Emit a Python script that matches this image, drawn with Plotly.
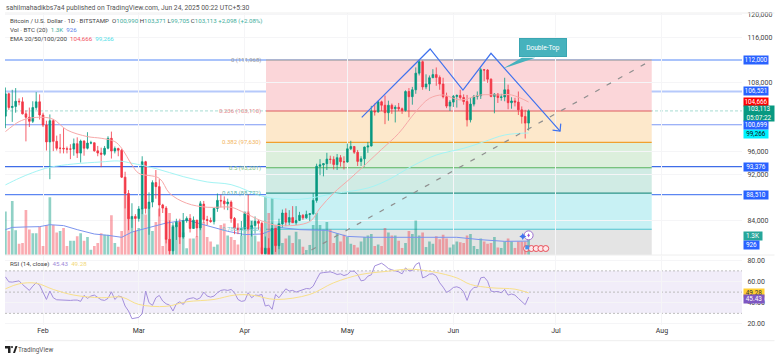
import pandas as pd
import plotly.graph_objects as go

FIRST_DAY = "2025-01-21"
opens = [102.2,106.1,103.7,103.9,104.8,104.7,102.6,102.0,101.3,103.7,104.7,
102.4,100.65,97.7,101.4,97.8,96.6,96.6,96.5,96.45,96.45,97.4,95.75,97.85,96.6,97.5,97.55,96.15,95.77,95.54,96.6,98.33,96.12,96.55,96.25,91.55,88.7,84.3,84.7,
84.35,86.0,94.25,86.1,87.2,90.6,89.9,86.7,86.15,80.7,78.7,82.9,83.7,81.1,83.95,84.35,82.6,84.05,82.7,86.85,84.15,84.0,83.8,86.1,87.5,87.4,86.9,87.2,84.35,82.65,82.4,
82.55,85.15,82.5,83.1,83.85,83.5,78.2,79.15,76.3,82.6,79.6,83.4,85.3,83.7,84.5,83.6,84.0,84.9,84.45,85.05,85.15,87.5,93.45,93.7,93.9,94.7,94.65,93.75,94.95,94.25,
94.2,96.5,96.9,95.9,94.3,94.75,96.8,97.0,103.1,102.95,104.7,104.1,102.8,104.1,103.5,103.75,103.5,103.2,106.5,105.6,106.8,109.7,111.7,107.3,107.8,108.9,109.45,108.95,107.8,105.6,103.95,
104.65,105.65,105.8,105.45,104.75,101.55,104.3,105.65,105.75,110.3,110.25,108.65,105.65,106.05,105.45,105.55,106.8,104.55,104.85,104.65,103.3,102.15,100.99]
highs = [107.2,106.3,106.8,107.1,105.3,105.5,103.2,103.7,104.8,106.4,106.0,
102.8,101.4,102.5,101.7,98.8,99.1,100.1,96.9,97.3,98.3,98.5,98.1,98.0,99.4,97.9,97.6,97.0,96.7,97.0,98.7,99.5,96.9,96.7,96.5,92.5,89.3,87.0,85.1,
86.5,95.2,94.4,88.9,91.0,92.8,91.2,86.9,86.5,84.0,83.6,84.3,84.3,85.3,84.7,85.1,84.7,84.1,87.4,87.4,84.8,84.5,86.2,88.7,88.5,88.2,87.8,87.5,84.6,83.5,83.9,
85.5,88.5,83.9,84.7,84.2,83.8,81.2,80.9,83.6,82.7,84.3,85.9,86.1,85.8,86.5,86.5,85.5,85.1,85.7,85.3,88.8,93.9,94.7,94.0,95.8,95.3,95.2,95.6,95.4,95.2,
97.4,97.9,97.0,96.3,95.2,96.9,97.7,104.0,104.4,104.9,104.9,105.8,104.9,104.4,104.1,104.5,103.7,106.7,107.1,107.3,110.7,112.0,111.9,109.5,109.3,110.4,110.7,109.3,108.9,106.3,105.0,
105.9,106.0,106.8,106.0,105.9,105.4,105.9,106.5,110.6,110.4,110.4,108.8,106.2,106.2,106.1,108.9,107.7,105.5,105.4,106.5,103.9,103.3,103.37]
lows = [100.1,103.3,101.2,102.8,104.1,102.5,97.8,100.3,101.0,103.3,101.6,
100.3,96.2,91.2,96.1,96.2,95.7,95.7,95.7,94.7,95.3,94.9,94.1,95.3,96.4,97.3,96.0,95.2,93.3,95.3,96.4,94.8,95.7,95.2,91.4,86.1,82.3,82.7,78.2,
83.8,85.1,85.2,81.5,86.3,87.8,84.7,85.3,80.0,77.4,76.6,80.6,79.9,80.8,83.6,81.9,82.5,81.1,82.3,83.6,83.2,83.6,83.3,85.5,86.3,85.9,85.8,83.6,81.6,81.6,81.3,
82.4,82.3,81.2,81.7,82.4,77.1,74.5,76.2,74.6,78.5,79.0,82.8,83.0,83.2,83.6,83.2,83.9,84.1,84.3,83.9,85.0,87.1,91.9,91.7,92.8,93.9,92.9,92.8,93.4,92.9,
94.1,96.3,95.6,93.5,93.5,93.4,95.8,96.9,102.3,102.8,103.1,100.8,101.4,102.6,101.1,103.1,102.6,103.0,102.0,104.2,106.1,109.3,106.8,106.9,106.6,108.9,107.5,106.8,105.3,103.6,103.1,
103.8,103.7,105.1,104.2,100.4,101.1,103.9,105.1,105.2,108.3,108.0,105.5,102.7,104.5,104.9,104.8,103.4,103.5,103.9,102.4,100.9,98.3,99.7]
closes = [106.1,103.7,103.9,104.8,104.7,102.6,102.0,101.3,103.7,104.7,102.4,
100.65,97.7,101.4,97.8,96.6,96.6,96.5,96.45,96.45,97.4,95.75,97.85,96.6,97.5,97.55,96.15,95.77,95.54,96.6,98.33,96.12,96.55,96.25,91.55,88.7,84.3,84.7,84.35,
86.0,94.25,86.1,87.2,90.6,89.9,86.7,86.15,80.7,78.7,82.9,83.7,81.1,83.95,84.35,82.6,84.05,82.7,86.85,84.15,84.0,83.8,86.1,87.5,87.4,86.9,87.2,84.35,82.65,82.4,82.55,
85.15,82.5,83.1,83.85,83.5,78.2,79.15,76.3,82.6,79.6,83.4,85.3,83.7,84.5,83.6,84.0,84.9,84.45,85.05,85.15,87.5,93.45,93.7,93.9,94.7,94.65,93.75,94.95,94.25,94.2,
96.5,96.9,95.9,94.3,94.75,96.8,97.0,103.1,102.95,104.7,104.1,102.8,104.1,103.5,103.75,103.5,103.2,106.5,105.6,106.8,109.7,111.7,107.3,107.8,108.9,109.45,108.95,107.8,105.6,103.95,104.65,
105.65,105.8,105.45,104.75,101.55,104.3,105.65,105.75,110.3,110.25,108.65,105.65,106.05,105.45,105.55,106.8,104.55,104.85,104.65,103.3,102.15,100.99,103.113]
volumes_k = [2.9,1.6,3.6,1.65,.75,.8,3.0,1.7,1.45,1.45,1.9,.6,2.0,3.85,2.0,1.5,1.6,1.8,.6,
.95,.95,1.25,1.45,.95,1.2,.35,.6,.8,1.45,1.35,1.35,2.65,.8,.55,
1.6,4.0,3.9,2.45,1.6,1.8,3.1,2.7,3.1,1.6,2.2,3.1,.6,2.25,
2.8,2.0,2.0,2.2,1.5,.45,1.1,1.1,1.25,3.5,
2.2,1.2,.9,.55,.7,2.0,2.1,1.3,1.2,1.0,.7,1.3,2.9,2.9,2.3,1.3,.9,.5,
3.9,2.8,3.8,2.0,2.1,.8,1.1,1.3,.8,1.55,1.05,.55,.33,.67,2.0,2.8,2.0,1.7,2.2,1.7,.8,1.45,.9,1.35,1.2,.75,.67,.5,.9,1.2,1.3,1.4,.6,.7,.6,1.8,1.5,
1.3,1.3,.95,.47,.8,1.6,1.4,2.3,1.3,1.5,.53,.9,.75,1.25,1.05,1.35,1.1,.5,.7,.9,.85,.8,1.3,1.4,.6,.4,1.1,.9,.75,.8,1.2,.5,.47,.9,1.1,.9,.47,.9,.9,.9,1.25]
rsi = [64.4,59.7,59.4,60,60.6,57.2,54.1,51.6,55.6,58.8,56.6,49.4,43.1,51,44.7,42.8,42.5,42.5,42.2,42.2,42.5,42.5,41.3,46.9,44.1,46.3,47.2,45.3,42.8,42.2,44.1,50.3,43.1,46.3,45.6,36.9,32.2,25,25.6,26.2,29.7,51,40,37.5,44.7,46.9,41.6,39,37.8,32.2,39,40.9,38.4,43.1,44.1,44.7,43.1,44.7,50,46.3,45.3,46.3,49.4,51.6,52.2,51.6,52.5,49.4,43.1,41.3,41.9,49.4,44.7,47.2,46.9,47.8,36.9,37.8,33.8,47.8,44.7,49.4,53.1,51,51.6,50,51,52.5,53.4,53.1,55.6,61.9,67.8,68.4,68.8,69.1,68.1,66.6,67.2,65.6,66.6,69.7,69.7,66.6,60.6,61.3,65,66.3,74.7,76,77.2,75,72.2,71,70,69.1,67.2,72.8,70,70.3,76,77.8,63.4,64.7,66.9,67.2,65,58.8,54.7,49.7,51.6,54.4,55,53.8,50.3,42.2,51,54.4,54.7,63.4,64.1,60.3,51,50.3,50.6,49.4,52.5,47.2,48.2,47.2,44.1,40.9,38.2,45.43]

ema20_days = [0,4,7,11,14,18,24,28,32,34,37,39,45,48,53,59,66,69,75,80,89,92,96,101,110,115,120,124,128,133,139,144,148,153]
ema20_vals = [99.5,101.24,101.83,102.0,101.65,99.79,98.63,98.34,97.76,96.59,93.69,92.23,91.36,88.74,87.0,86.3,86.3,85.6,83.9,83.1,83.8,86.17,88.79,91.4,96.4,99.2,102.98,105.3,105.9,105.02,105.9,105.9,105.9,104.666]
ema200_days = [0,4,8,13,20,28,33,37,44,52,59,66,76,86,96,106,112,119,126,134,140,146,153]
ema200_vals = [90.2,91.36,92.35,93.28,93.86,94.21,94.38,93.98,93.05,91.65,90.72,90.25,88.09,87.69,88.67,89.66,91.11,93.5,95.42,96.59,97.74,98.91,99.266]
volsma_days = [0,2,6,10,13,17,21,26,30,34,37,42,47,53,59,65,70,75,80,86,94,100,106,112,122,132,139,146,153]
volsma_vals = [1.69,1.84,1.87,1.89,2.02,1.96,1.69,1.4,1.31,1.18,1.53,1.84,2.13,2.33,1.96,1.58,1.36,1.4,1.84,1.69,1.64,1.24,1.18,1.18,1.2,1.18,1.02,.91,.926]
rsima_days = [0,4,9,14,20,28,34,39,47,53,61,67,72,79,89,96,104,112,118,125,132,136,142,149,153]
rsima_vals = [53.1,57.8,58.4,52.5,47.2,44.7,45.3,38.4,36.6,40.9,43.1,47.2,47.2,43.1,47.8,58.8,66.6,69.7,71.6,69.1,63.4,57.2,54.1,52.8,49.28]

fib_levels = [111.968,103.110,97.630,93.201,88.772,82.466,74.434]
fib_labels = ["0 (111,968)","0.236 (103,110)","0.382 (97,630)","0.5 (93,201)","0.618 (88,772)","0.786 (82,466)",""]
fib_fill = ["#fbd6d9","#fde8cb","#dcefdc","#d0ebe4","#c8f1f4","#e4e4e4"]
fib_line = ["#b0a8a8","#dd5a60","#f0a02e","#58b45c","#2e9488","#4cc4d0","#888888"]
fib_text = ["#9a9a9a","#e88a8e","#f2b45c","#7fc383","#5db0a6","#70ccd6"]
fib_start, fib_end = 76.2, 189

levels = [112.0,106.521,100.699,93.376,88.510]
level_labels = ["112,000","106,521","100,699","93,376","88,510"]
level_colors = ["#a9c3fb","#b6c9fb","#7c98f5","#3f6de8","#5b86f2"]
level_widths = [2,2,1.2,1.2,1.2]

pattern_days = [104.2,124.2,133.8,142,162.2]
pattern_vals = [102.0,113.92,106.76,113.17,99.6]
head_days = [160,162.2,162.4]
head_vals = [99.75,99.6,100.9]
trend_days = [76.2,189]
trend_vals = [74.434,111.968]
callout_days = [145.5,151,155]
callout_vals = [110.5,112.4,112.4]

month_ticks = ["2025-02-01","2025-03-01","2025-04-01","2025-05-01","2025-06-01","2025-07-01","2025-08-01"]
month_labels = ["Feb","Mar","Apr","May","Jun","Jul","Aug"]
price_ticks = [84,92,96,108,116,120]
rsi_ticks = [20,40,60,80]

for a in (opens,highs,lows,closes,volumes_k,rsi):
    assert len(a)==154, [len(b) for b in (opens,highs,lows,closes,volumes_k,rsi)]

UP, DOWN = "#089981", "#f23645"
FONT = "Roboto"
t0 = pd.Timestamp(FIRST_DAY)
def day(v):
    return t0 + pd.to_timedelta(v, unit="D")
def days(vs):
    return [day(v) for v in vs]
def k(vs):
    return [v*1000 for v in vs]
dates = days(range(154))

# pixel helpers for page furniture
def px(x): return (x-5)/737
def py(y): return (325-y)/312

fig = go.Figure()
bar_colors = ["rgba(8,153,129,0.45)" if c>=o else "rgba(242,54,69,0.42)" for o,c in zip(opens,closes)]
fig.add_bar(x=dates,y=volumes_k,marker_color=bar_colors,marker_line_width=0,width=86400000*0.78,yaxis="y")
fig.add_scatter(x=days(volsma_days),y=volsma_vals,mode="lines",line=dict(color="#7b93ee",width=1),yaxis="y")
fig.add_scatter(x=days(ema200_days),y=k(ema200_vals),mode="lines",line=dict(color="#a4f4f4",width=1,shape="spline"),yaxis="y2")
fig.add_scatter(x=days(ema20_days),y=k(ema20_vals),mode="lines",line=dict(color="#f7a9a9",width=1,shape="spline"),yaxis="y2")
fig.add_candlestick(x=dates,open=k(opens),high=k(highs),low=k(lows),close=k(closes),yaxis="y2",
    increasing=dict(line=dict(color=UP,width=0.8),fillcolor=UP),
    decreasing=dict(line=dict(color=DOWN,width=0.8),fillcolor=DOWN),whiskerwidth=0)
fig.add_scatter(x=days(trend_days),y=k(trend_vals),mode="lines",line=dict(color="#8f8f8f",width=1.2,dash="5px,8px"),yaxis="y2")
fig.add_scatter(x=days(pattern_days),y=k(pattern_vals),mode="lines",line=dict(color="#3f72ee",width=1.2),yaxis="y2")
fig.add_scatter(x=days(head_days),y=k(head_vals),mode="lines",line=dict(color="#3f72ee",width=1.2),yaxis="y2")
# event icons
fig.add_scatter(x=days([153]),y=[81400],mode="markers",marker=dict(size=9,color="white",line=dict(color="#9b6fd0",width=1)),yaxis="y2")
fig.add_scatter(x=days([153]),y=[81400],mode="markers",marker=dict(size=3,color="#9b4fd0",symbol="diamond-tall"),yaxis="y2")
fig.add_scatter(x=days([151.3]),y=[81200],mode="markers",marker=dict(size=5,color="#3f72ee",symbol="star-diamond"),yaxis="y2")
fig.add_scatter(x=days([152.4,153.8,155.2,156.6,158]),y=[79100]*5,mode="markers",marker=dict(size=6,color="#fde6e8",line=dict(color="#e8505a",width=1)),yaxis="y2")
fig.add_scatter(x=days([152.6]),y=[79300],mode="markers",marker=dict(size=4,color="#4a90e8",symbol="square"),yaxis="y2")
fig.add_scatter(x=dates,y=rsi,mode="lines",line=dict(color="#a48fdc",width=1),yaxis="y3")
fig.add_scatter(x=days(rsima_days),y=rsima_vals,mode="lines",line=dict(color="#f8e08a",width=1,shape="spline"),yaxis="y3")

shapes = []
x0,x1 = day(fib_start),day(fib_end)
for i,c in enumerate(fib_fill):
    shapes.append(dict(type="rect",xref="x",yref="y2",x0=x0,x1=x1,y0=fib_levels[i]*1000,y1=fib_levels[i+1]*1000,fillcolor=c,line_width=0,layer="below"))
# price line
shapes.append(dict(type="line",xref="paper",yref="y2",x0=0,x1=1,y0=103113,y1=103113,line=dict(color="#a8dcd2",width=1,dash="3px,2px"),layer="below"))
for lv,c in zip(fib_levels[:-1],fib_line):
    shapes.append(dict(type="line",xref="x",yref="y2",x0=x0,x1=x1,y0=lv*1000,y1=lv*1000,line=dict(color=c,width=1.1),layer="below"))
for lv,c,w in zip(levels,level_colors,level_widths):
    shapes.append(dict(type="line",xref="paper",yref="y2",x0=0,x1=1,y0=lv*1000,y1=lv*1000,line=dict(color=c,width=w),layer="below"))
# RSI band
shapes.append(dict(type="rect",xref="paper",yref="y3",x0=0,x1=1,y0=30,y1=70,fillcolor="#f1edf9",line_width=0,layer="below"))
for v in (30,50,70):
    shapes.append(dict(type="line",xref="paper",yref="y3",x0=0,x1=1,y0=v,y1=v,line=dict(color="#bdbdbd",width=1,dash="2px,2px"),layer="below"))
# callout pointer
path = "M "+" L ".join(f"{day(d).strftime('%Y-%m-%d_%H:%M')},{v*1000}" for d,v in zip(callout_days,callout_vals))+" Z"
shapes.append(dict(type="path",xref="x",yref="y2",path=path,fillcolor="#46b2bd",line_width=0))
# frame lines
for yy in (13,255,340.7):
    shapes.append(dict(type="line",xref="paper",yref="paper",x0=0,x1=px(774.5),y0=py(yy),y1=py(yy),line=dict(color="#eeeeee",width=1)))
# TradingView logo
logo = f"M {px(5)},{py(346)} L {px(10.5)},{py(346)} L {px(10.5)},{py(353)} L {px(8)},{py(353)} L {px(8)},{py(348.5)} L {px(5)},{py(348.5)} Z M {px(13)},{py(353)} L {px(15.5)},{py(346)} L {px(17.5)},{py(346)} L {px(15)},{py(353)} Z"
shapes.append(dict(type="path",xref="paper",yref="paper",path=logo,fillcolor="#222222",line_width=0))
shapes.append(dict(type="circle",xref="paper",yref="paper",x0=px(11),x1=px(13),y0=py(348.2),y1=py(346),fillcolor="#222222",line_width=0))
fig.update_layout(shapes=shapes)

ann = []
def text(x,y,s,size=6.2,color="#2a2e39",anchor="left"):
    ann.append(dict(xref="paper",yref="paper",x=px(x),y=py(y),text=s,showarrow=False,xanchor=anchor,yanchor="middle",
                    font=dict(family=FONT,size=size,color=color),borderpad=0,align="left"))
text(5,8,"sahilmahadikbs7a4 published on TradingView.com, Jun 24, 2025 00:22 UTC+5:30",6.75,"#555555")
g = "#3fae9c"
text(9,21,f"Bitcoin / U.S. Dollar · 1D · BITSTAMP  O<span style='color:{g}'>100,990</span> H<span style='color:{g}'>103,371</span> L<span style='color:{g}'>99,705</span> C<span style='color:{g}'>103,113</span> <span style='color:{g}'>+2,098 (+2.08%)</span>",6.15,"#444444")
text(9,30,f"Vol · BTC (20)  <span style='color:{g}'>1.3K</span>  <span style='color:#5b7fe8'>926</span>",6.2,"#444444")
text(9,38.5,"EMA 20/50/100/200  <span style='color:#f2545f'>104,666</span>  <span style='color:#4fe0e8'>99,266</span>",6.2,"#444444")
text(9,263.5,"RSI (14, close)  <span style='color:#a08ad8'>45.43</span>  <span style='color:#f2d878'>49.28</span>",6.2,"#444444")
text(17,349.5,"TradingView",6.4,"#555555")
for d,v,s,c in [(fib_start-1.1,lv,l,t) for lv,l,t in zip(fib_levels,fib_labels,fib_text) if l]:
    ann.append(dict(xref="x",yref="y2",x=day(d),y=v*1000,text=s,showarrow=False,xanchor="right",yanchor="middle",
                    font=dict(family=FONT,size=6,color=c),borderpad=0))
# callout
ann.append(dict(xref="x",yref="y2",x=day(150.2),y=114200,xanchor="left",yanchor="middle",text="Double-Top",showarrow=False,
                width=44,height=15,bgcolor="#46b2bd",bordercolor="#3aa6b2",borderwidth=1,borderpad=1,font=dict(family=FONT,size=6.6,color="white")))
def badge(yv,yref,s,bg,fg="white",w=24,h=8):
    ann.append(dict(xref="paper",yref=yref,x=1,xshift=1,y=yv,xanchor="left",yanchor="middle",text=s,showarrow=False,
                    width=w,height=h,bgcolor=bg,borderpad=0,font=dict(family=FONT,size=6.4,color=fg),align="center"))
badge(104666,"y2","104,666","#ff0000")
badge(102580,"y2","103,113<br>05:07:22","#089981",w=30,h=15)
badge(99000,"y2","99,266","#00f2ff","#111111")
for lv,l in zip(levels,level_labels):
    badge(lv*1000,"y2",l,"#2962ff")
badge(1.3,"y","1.3K","#26a69a",w=18)
badge(.68,"y","926","#2962ff",w=15)
badge(49.28,"y3","49.28","#ffcf33","#333333",w=20)
badge(43.4,"y3","45.43","#7e57c2",w=20)
fig.update_layout(annotations=ann)

fig.update_layout(
    width=780,height=358,margin=dict(l=5,r=38,t=13,b=33,autoexpand=False),
    paper_bgcolor="white",plot_bgcolor="white",showlegend=False,barmode="overlay",
    font=dict(family=FONT,size=7,color="#333333"),
    xaxis=dict(type="date",range=[day(-0.12),day(215.4)],anchor="y3",tickvals=month_ticks,ticktext=month_labels,
               showgrid=True,gridcolor="#f5f5f7",gridwidth=1,zeroline=False,showline=False,ticks="",rangeslider=dict(visible=False),
               tickfont=dict(size=7,color="#333333")),
    yaxis=dict(domain=[(325-255)/312,1],range=[0,242/15],visible=False,fixedrange=True),
    yaxis2=dict(domain=[(325-255)/312,1],overlaying="y",side="right",anchor="x",range=[77970,120200],tickvals=[t*1000 for t in price_ticks],
                tickformat=",d",showgrid=True,gridcolor="#f5f5f7",zeroline=False,ticks="outside",ticklen=3,tickcolor="white",tickfont=dict(size=7,color="#444444")),
    yaxis3=dict(domain=[0,(325-256)/312],side="right",anchor="x",range=[19.05,84],tickvals=rsi_ticks,tickformat=".2f",
                showgrid=True,gridcolor="#f5f5f7",zeroline=False,ticks="outside",ticklen=3,tickcolor="white",tickfont=dict(size=7,color="#444444")),
)
fig.write_html("out.html",config=dict(displayModeBar=False),post_script="document.body.style.margin='0';")
